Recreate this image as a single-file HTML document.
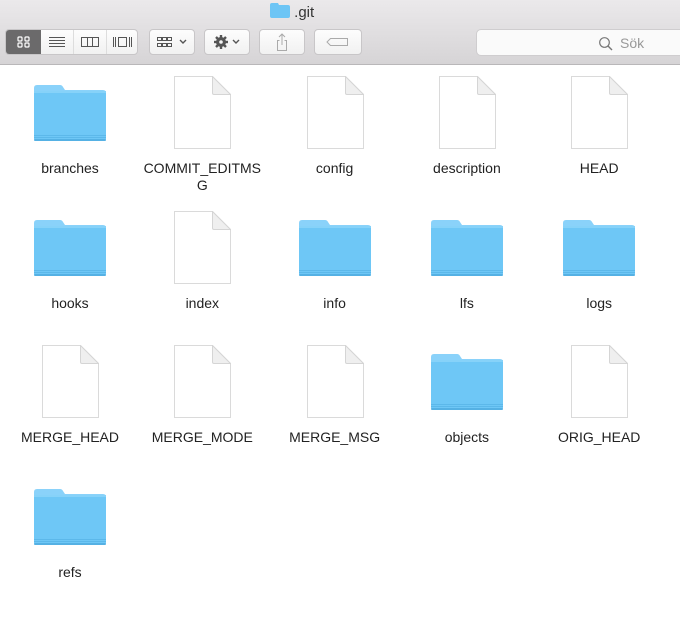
<!DOCTYPE html>
<html><head><meta charset="utf-8">
<style>
html,body{margin:0;padding:0;width:680px;height:620px;overflow:hidden;background:#fff;font-family:"Liberation Sans",sans-serif;}
#toolbar{position:absolute;left:0;top:0;width:680px;height:64px;background:linear-gradient(#ebe9eb,#d6d4d6);border-bottom:1px solid #b9b7b9;}
.btn{position:absolute;top:29px;height:26px;background:linear-gradient(#fdfdfd,#f1f1f1);border:1px solid #c8c6c8;border-radius:4px;box-sizing:border-box;}
.title{position:absolute;top:3px;left:270px;font-size:15px;color:#333;}
.lbl{position:absolute;width:130px;text-align:center;font-size:14px;color:#222;line-height:17px;}
.ico{position:absolute;}
#search{position:absolute;left:476px;top:29px;width:220px;height:27px;background:#fafafa;border:1px solid #cfcdcf;border-radius:5px;box-sizing:border-box;}
</style></head><body>
<div id="toolbar">
  <div class="title">
    <svg width="20" height="15" style="vertical-align:-1px" viewBox="0 0 20 15"><path d="M0,2 Q0,0 2,0 H8 L9,2 H18 Q20,2 20,4 V13 Q20,15 18,15 H2 Q0,15 0,13Z" fill="#6dc5f5"/></svg> .git</div>
  <div class="btn" style="left:5px;width:133px;">
    <div style="position:absolute;left:0;top:0;width:35px;height:24px;background:#6b6a6b;border-radius:3px 0 0 3px;">
      <svg width="35" height="24"><g fill="none" stroke="#fff" stroke-width="1.2"><rect x="12" y="7" width="4" height="4" rx="1"/><rect x="19" y="7" width="4" height="4" rx="1"/><rect x="12" y="13" width="4" height="4" rx="1"/><rect x="19" y="13" width="4" height="4" rx="1"/></g></svg></div>
    <div style="position:absolute;left:35px;top:0;width:32px;height:24px;border-right:1px solid #ddd;">
      <svg width="32" height="24"><g stroke="#555" stroke-width="1"><line x1="8" y1="7.5" x2="24" y2="7.5"/><line x1="8" y1="10.5" x2="24" y2="10.5"/><line x1="8" y1="13.5" x2="24" y2="13.5"/><line x1="8" y1="16.5" x2="24" y2="16.5"/></g></svg></div>
    <div style="position:absolute;left:68px;top:0;width:32px;height:24px;border-right:1px solid #ddd;">
      <svg width="32" height="24"><g fill="none" stroke="#555"><rect x="7.5" y="7.5" width="17" height="9"/><line x1="13.5" y1="7.5" x2="13.5" y2="16.5"/><line x1="18.5" y1="7.5" x2="18.5" y2="16.5"/></g></svg></div>
    <div style="position:absolute;left:101px;top:0;width:31px;height:24px;">
      <svg width="31" height="24"><g fill="none" stroke="#555"><rect x="11.5" y="7.5" width="8" height="9"/><line x1="6.5" y1="7" x2="6.5" y2="17"/><line x1="8.5" y1="7" x2="8.5" y2="17"/><line x1="22.5" y1="7" x2="22.5" y2="17"/><line x1="24.5" y1="7" x2="24.5" y2="17"/></g></svg></div>
  </div>
  <div class="btn" style="left:149px;width:46px;">
    <svg width="44" height="24"><g fill="none" stroke="#555" stroke-width="1"><rect x="7.5" y="7.5" width="4" height="3"/><rect x="12.5" y="7.5" width="4" height="3"/><rect x="17.5" y="7.5" width="4" height="3"/><rect x="7.5" y="13.5" width="4" height="3"/><rect x="12.5" y="13.5" width="4" height="3"/><rect x="17.5" y="13.5" width="4" height="3"/><path d="M30,10 L33,13 L36,10" stroke-width="1.4"/></g></svg></div>
  <div class="btn" style="left:204px;width:46px;">
    <svg width="44" height="24"><circle cx="16" cy="12" r="5" fill="#555"/><g stroke="#555" stroke-width="2.4"><line x1="16" y1="5" x2="16" y2="19"/><line x1="9" y1="12" x2="23" y2="12"/><line x1="11" y1="7" x2="21" y2="17"/><line x1="21" y1="7" x2="11" y2="17"/></g><circle cx="16" cy="12" r="1.8" fill="#f5f5f5"/><path d="M28,10 L31,13 L34,10" fill="none" stroke="#555" stroke-width="1.4"/></svg></div>
  <div class="btn" style="left:259px;width:46px;">
    <svg width="44" height="24"><g fill="none" stroke="#aaa"><path d="M19.5,10.5 H17.5 V20.5 H26.5 V10.5 H24.5"/><line x1="22" y1="4" x2="22" y2="15"/><path d="M19,7 L22,4 L25,7"/></g></svg></div>
  <div class="btn" style="left:314px;width:48px;">
    <svg width="46" height="24"><path d="M15.5,8.5 H32.5 V15.5 H15.5 L12,12Z" fill="none" stroke="#aaa"/></svg></div>
  <div id="search">
    <svg style="position:absolute;left:121px;top:6px" width="16" height="16"><circle cx="6.5" cy="6.5" r="4.8" fill="none" stroke="#777" stroke-width="1.2"/><line x1="10" y1="10" x2="14" y2="14" stroke="#777" stroke-width="1.4"/></svg>
    <span style="position:absolute;left:143px;top:5px;font-size:14px;color:#999;">Sök</span>
  </div>
</div>
<div id="grid"></div>
<script>
var names=["branches","COMMIT_EDITMSG","config","description","HEAD","hooks","index","info","lfs","logs","MERGE_HEAD","MERGE_MODE","MERGE_MSG","objects","ORIG_HEAD","refs"];
var kinds=["F","D","D","D","D","F","D","F","F","F","D","D","D","F","D","F"];
var folderSvg='<svg width="72" height="57" viewBox="0 0 72 57"><path d="M0,4 Q0,1 3,1 H26 Q28,1 29,3 L31,6 H69 Q72,6 72,9 V20 H0Z" fill="#8ad2fa"/><rect x="0" y="7" width="72" height="50" rx="2.5" fill="#6ec7f6"/><rect x="0" y="7" width="72" height="2" fill="#86d2f9"/><rect x="0" y="51" width="72" height="1" fill="#5cb8ea"/><rect x="0" y="53" width="72" height="1" fill="#5cb8ea"/><rect x="0" y="55" width="72" height="2" rx="1" fill="#55b1e4"/></svg>';
var docSvg='<svg width="57" height="73" viewBox="0 0 57 73"><path d="M0.5,0.5 H38.5 L56.5,18.5 V72.5 H0.5Z" fill="#fff" stroke="#dadada"/><path d="M38.5,0.5 V17 Q38.5,18.5 40,18.5 H56.5Z" fill="#efefef" stroke="#d5d5d5"/></svg>';
var grid=document.getElementById('grid');
for(var i=0;i<names.length;i++){
  var col=i%5,row=Math.floor(i/5);
  var cx=70+col*132.3,rowTop=row*134.7;
  var item=document.createElement('div');
  
  
  var ic=document.createElement('div');
  ic.className='ico';
  
  
  if(kinds[i]=='F'){ic.style.left=(cx-36)+'px';ic.style.top=(84+rowTop)+'px';ic.innerHTML=folderSvg;}
  else{ic.style.left=(cx-28)+'px';ic.style.top=(76+rowTop)+'px';ic.innerHTML=docSvg;}
  var lb=document.createElement('div');
  lb.className='lbl';
  
  
  lb.style.left=(cx-65)+'px';lb.style.top=(160+rowTop)+'px';
  if(names[i]=="COMMIT_EDITMSG"){lb.innerHTML="COMMIT_EDITMS<br>G";}else{lb.textContent=names[i];}
  item.appendChild(ic);item.appendChild(lb);grid.appendChild(item);
}
</script>
</body></html>
